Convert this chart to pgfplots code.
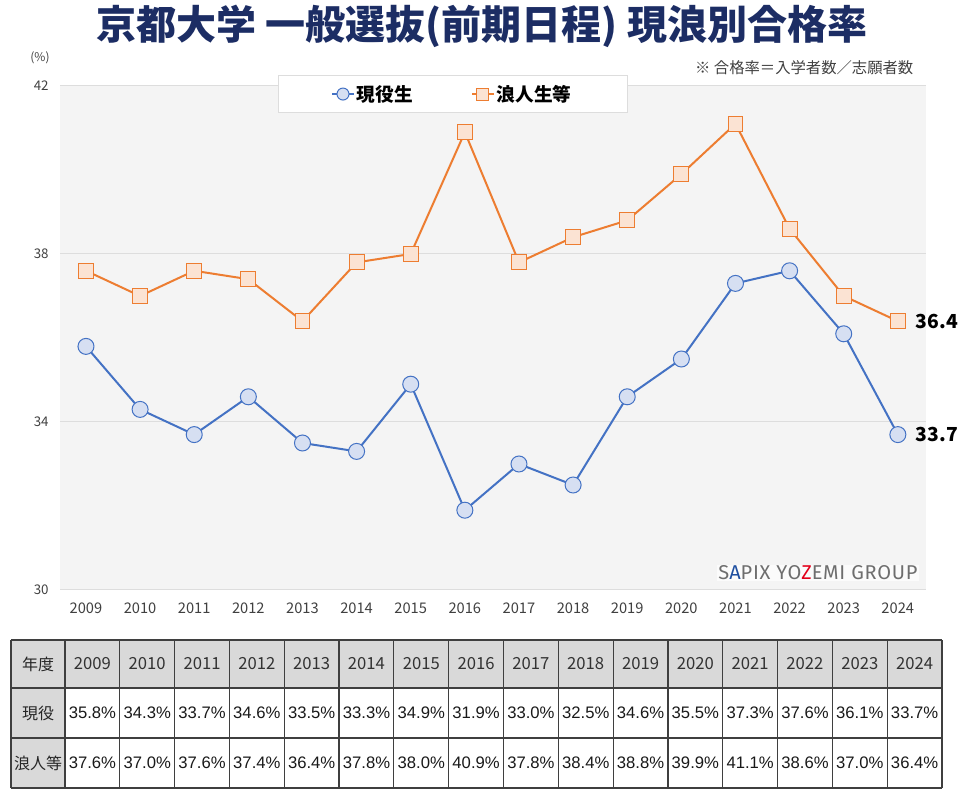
\documentclass[border=0pt]{standalone}
\usepackage{pgfplots}
\pgfplotsset{compat=1.18}
\usepackage{fontspec}
\setmainfont{Noto Sans CJK JP}
\newfontfamily\lib{Liberation Sans}
\newfontfamily\fira{Fira Sans}[LetterSpace=3.5]
\definecolor{navy}{HTML}{1C2D64}
\definecolor{cblue}{HTML}{4472C4}
\definecolor{cbluef}{HTML}{D6DFF2}
\definecolor{corange}{HTML}{ED7D31}
\definecolor{corangef}{HTML}{FBE3D3}
\definecolor{bggray}{HTML}{F4F4F4}
\definecolor{gridgray}{HTML}{DDDDDD}
\definecolor{ticktext}{HTML}{404040}
\definecolor{tblgray}{HTML}{D9D9D9}
\definecolor{tblline}{HTML}{3F3F3F}
\definecolor{wmgray}{HTML}{6E6E6E}
\definecolor{wmblue}{HTML}{1F4FA0}
\definecolor{wmred}{HTML}{E2001A}
\begin{document}
\begin{tikzpicture}
\begin{scope}[x=0.75pt,y=0.75pt]
% title
\node[font=\fontsize{30}{32}\selectfont\bfseries, text=navy] at (482,776) {京都大学 一般選抜(前期日程) 現浪別合格率};
\node[font=\fontsize{9}{10}\selectfont, text=ticktext] at (40,744) {(\%)};
\node[anchor=east, font=\fontsize{11.5}{13}\selectfont, text=ticktext] at (918,734) {※ 合格率＝入学者数／志願者数};
\end{scope}
\begin{axis}[
  at={(45pt,159pt)}, anchor=south west, scale only axis,
  width=649.5pt, height=378pt,
  xmin=2008.52, xmax=2024.52, ymin=30, ymax=42,
  xtick={2009,...,2024}, ytick={30,34,38,42},
  /pgf/number format/1000 sep={},
  /pgf/number format/assume math mode=true,
  axis background/.style={fill=bggray},
  axis line style={draw=none},
  ymajorgrids, grid style={gridgray, line width=0.75pt},
  major tick length=0pt,
  xticklabel style={font=\fontsize{11}{12}\selectfont, text=ticktext, yshift=-6pt},
  yticklabel style={font=\fontsize{10}{12}\selectfont, text=ticktext, xshift=-5pt},
  clip=false,
  legend style={at={(0.4538,0.984)}, anchor=center, legend columns=2,
    draw=gridgray, fill=white, font=\fontsize{14}{16}\selectfont\bfseries,
    inner xsep=40pt, inner ysep=5pt,
    /tikz/every even column/.append style={column sep=42pt}},
  legend image code/.code={\draw[mark repeat=2,mark phase=2,#1,mark size=4.5pt,line width=1pt] plot coordinates {(0pt,0pt)(8pt,0pt)(16pt,0pt)};},
]
\addplot[color=cblue, line width=1.5pt, mark=*, mark size=6pt, mark options={fill=cbluef, draw=cblue, line width=0.75pt}] coordinates {
(2009,35.8)(2010,34.3)(2011,33.7)(2012,34.6)(2013,33.5)(2014,33.3)(2015,34.9)(2016,31.9)
(2017,33.0)(2018,32.5)(2019,34.6)(2020,35.5)(2021,37.3)(2022,37.6)(2023,36.1)(2024,33.7)};
\addlegendentry{現役生}
\addplot[color=corange, line width=1.5pt, mark=square*, mark size=5.6pt, mark options={fill=corangef, draw=corange, line width=0.75pt}] coordinates {
(2009,37.6)(2010,37.0)(2011,37.6)(2012,37.4)(2013,36.4)(2014,37.8)(2015,38.0)(2016,40.9)
(2017,37.8)(2018,38.4)(2019,38.8)(2020,39.9)(2021,41.1)(2022,38.6)(2023,37.0)(2024,36.4)};
\addlegendentry{浪人生等}
\node[anchor=west, font=\fontsize{14.5}{16}\selectfont\bfseries] at (axis cs:2024,36.4) [xshift=10pt] {36.4};
\node[anchor=west, font=\fontsize{14.5}{16}\selectfont\bfseries] at (axis cs:2024,33.7) [xshift=10pt] {33.7};
\end{axis}
\begin{scope}[x=0.75pt,y=0.75pt]
% watermark
\node[anchor=east, font=\fira\fontsize{15}{16}\selectfont, text=wmgray, fill=white, fill opacity=0.7, text opacity=1, inner sep=1pt] at (919,229) {S\textcolor{wmblue}{A}PIX YO\textcolor{wmred}{Z}EMI GROUP};
% table
\fill[tblgray] (11,114) rectangle (942,162);
\fill[tblgray] (11,14) rectangle (65,114);
\foreach \yy in {162,114,64,14} {\draw[tblline, line width=0.9pt] (11,\yy) -- (942,\yy);}
\draw[tblline, line width=0.9pt] (11,14) -- (11,162);
\foreach \i in {0,...,16} {\draw[tblline, line width=0.9pt] (65+\i*54.8125,14) -- (65+\i*54.8125,162);}
\node[font=\fontsize{12}{13}\selectfont, text=black!85] at (38,138) {年度};
\node[font=\fontsize{12}{13}\selectfont, text=black!85] at (38,89) {現役};
\node[font=\fontsize{12}{13}\selectfont, text=black!85] at (38,39) {浪人等};
\foreach \yr [count=\i] in {2009,2010,2011,2012,2013,2014,2015,2016,2017,2018,2019,2020,2021,2022,2023,2024}
  {\node[font=\fontsize{12.5}{13}\selectfont, text=black!80] at (65+\i*54.8125-27.4,138) {\yr};}
\foreach \v [count=\i] in {35.8,34.3,33.7,34.6,33.5,33.3,34.9,31.9,33.0,32.5,34.6,35.5,37.3,37.6,36.1,33.7}
  {\node[font=\lib\fontsize{12.5}{13}\selectfont, text=black!90] at (65+\i*54.8125-27.4,89) {\v\%};}
\foreach \v [count=\i] in {37.6,37.0,37.6,37.4,36.4,37.8,38.0,40.9,37.8,38.4,38.8,39.9,41.1,38.6,37.0,36.4}
  {\node[font=\lib\fontsize{12.5}{13}\selectfont, text=black!90] at (65+\i*54.8125-27.4,39) {\v\%};}
\end{scope}
\pgfresetboundingbox
\useasboundingbox (0,0) rectangle (720pt,601.5pt);
\end{tikzpicture}
\end{document}
